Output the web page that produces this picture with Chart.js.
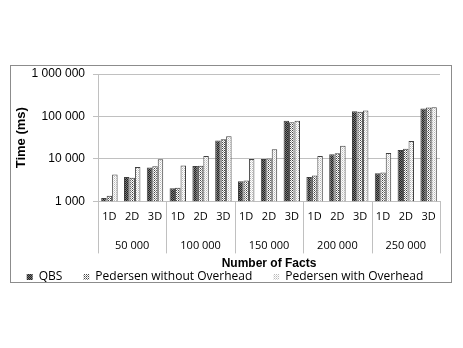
<!DOCTYPE html>
<html>
<head>
<meta charset="utf-8">
<script src="https://cdn.jsdelivr.net/npm/chart.js@4.4.1/dist/chart.umd.min.js"></script>
<style>
  html, body { margin: 0; padding: 0; background: #fff; }
  #wrap { position: relative; width: 463px; height: 348px; }
  #frame { position: absolute; left: 10px; top: 65px; width: 440px; height: 216px; border: 1px solid #8c8c8c; pointer-events: none; }
  canvas { position: absolute; left: 0; top: 0; }
</style>
</head>
<body>
<div id="wrap">
  <canvas id="grafico" width="463" height="348"></canvas>
  <div id="frame"></div>
</div>
<script>
// --- datos ---
const dimensiones = ['1D', '2D', '3D', '1D', '2D', '3D', '1D', '2D', '3D', '1D', '2D', '3D', '1D', '2D', '3D'];
const hechos = ['50 000', '100 000', '150 000', '200 000', '250 000'];
const qbs = [1200, 3750, 6300, 2050, 6800, 27000, 3000, 9900, 79000, 3750, 12900, 132000, 4600, 16300, 155000];
const pedersenSin = [1350, 3600, 6700, 2100, 6900, 29000, 3100, 10300, 73000, 4050, 13600, 130000, 4800, 17300, 163000];
const pedersenCon = [4300, 6500, 9800, 7000, 11700, 34000, 9900, 17000, 79000, 11700, 20400, 138000, 13800, 26300, 165000];
const yTicks = [1000, 10000, 100000, 1000000];

// --- tramas de las barras ---
function trama(celdas, size) {
    const c = document.createElement('canvas');
    c.width = size; c.height = size;
    const g = c.getContext('2d');
    g.fillStyle = '#ffffff';
    g.fillRect(0, 0, size, size);
    celdas.forEach(([x, y, color]) => {
        g.fillStyle = color;
        g.fillRect(x, y, 1, 1);
    });
    return g.createPattern(c, 'repeat');
}
const ctx = document.getElementById('grafico').getContext('2d');
const tramaQbs = trama([[0, 0, '#222'], [1, 1, '#222'], [1, 0, '#7a7a7a'], [0, 1, '#7a7a7a']], 2);
const tramaSin = trama([[0, 0, '#444'], [2, 0, '#444'], [1, 1, '#888'], [3, 1, '#aaa'], [0, 2, '#444'], [2, 2, '#444'], [1, 3, '#aaa'], [3, 3, '#888']], 4);
const tramaCon = trama([[0, 0, '#b8b8b8'], [1, 1, '#dcdcdc']], 2);

const formato = v => String(v).replace(/\B(?=(\d{3})+(?!\d))/g, ' ');

// separadores verticales entre grupos debajo del eje
const separadores = {
    id: 'separadores',
    afterDraw(chart) {
        const x = chart.scales.x;
        const x2 = chart.scales.x2;
        const paso = x.getPixelForValue(1) - x.getPixelForValue(0);
        const c = chart.ctx;
        c.save();
        c.strokeStyle = '#c0c0c0';
        c.lineWidth = 1;
        for (let g = 0; g <= hechos.length; g++) {
            const px = Math.round(x.getPixelForValue(g * 3) - paso / 2) + 0.5;
            c.beginPath();
            c.moveTo(px, chart.chartArea.bottom);
            c.lineTo(px, x2.top + 18);
            c.stroke();
        }
        c.restore();
    }
};

const serie = (label, data, fondo) => ({
    label: label,
    data: data,
    backgroundColor: fondo,
    borderColor: '#404040',
    borderWidth: 1,
    categoryPercentage: 0.72,
    barPercentage: 1
});

new Chart(ctx, {
    type: 'bar',
    data: {
        labels: dimensiones,
        datasets: [
            serie('QBS', qbs, tramaQbs),
            serie('Pedersen without Overhead', pedersenSin, tramaSin),
            serie('Pedersen with Overhead', pedersenCon, tramaCon)
        ]
    },
    options: {
        responsive: false,
        animation: false,
        layout: { padding: { left: 10, right: 23, top: 74, bottom: 55 } },
        plugins: {
            tooltip: { enabled: false },
            legend: {
                position: 'bottom',
                labels: {
                    color: '#000',
                    font: { family: 'Open Sans', size: 12 },
                    boxWidth: 6,
                    boxHeight: 6,
                    padding: 0,
                    generateLabels(chart) {
                        const base = Chart.defaults.plugins.legend.labels.generateLabels(chart);
                        base.forEach((it, i) => {
                            it.lineWidth = 0;
                            if (i < base.length - 1) it.text = it.text + '\u2002\u2002\u2002\u2005';
                        });
                        return base;
                    }
                }
            }
        },
        scales: {
            y: {
                type: 'logarithmic',
                min: 1000,
                max: 1000000,
                afterBuildTicks: s => { s.ticks = yTicks.map(v => ({ value: v })); },
                afterFit: s => { s.width = 88; },
                ticks: {
                    color: '#000',
                    font: { family: 'Liberation Sans', size: 12 },
                    padding: 8,
                    callback: v => formato(v)
                },
                grid: { color: '#c0c0c0', tickLength: 5, drawTicks: true },
                border: { color: '#c0c0c0' },
                title: {
                    display: true,
                    text: 'Time (ms)',
                    color: '#000',
                    font: { family: 'Liberation Sans', size: 13, weight: 'bold' },
                    padding: { top: 4, bottom: 0 }
                }
            },
            x: {
                position: 'bottom',
                afterFit: s => { s.height = 34; },
                grid: { display: false, drawTicks: false },
                border: { color: '#c0c0c0' },
                ticks: {
                    color: '#000',
                    font: { family: 'Open Sans', size: 11 },
                    padding: 9,
                    maxRotation: 0,
                    autoSkip: false
                }
            },
            x2: {
                type: 'category',
                labels: hechos,
                position: 'bottom',
                offset: true,
                grid: { display: false, drawTicks: false },
                border: { display: false },
                ticks: {
                    color: '#000',
                    font: { family: 'Open Sans', size: 11 },
                    padding: 4,
                    maxRotation: 0
                },
                title: {
                    display: true,
                    text: 'Number of Facts',
                    color: '#000',
                    font: { family: 'Liberation Sans', size: 12, weight: 'bold' },
                    padding: { top: 0, bottom: 0 }
                }
            }
        }
    },
    plugins: [separadores]
});
</script>
</body>
</html>
